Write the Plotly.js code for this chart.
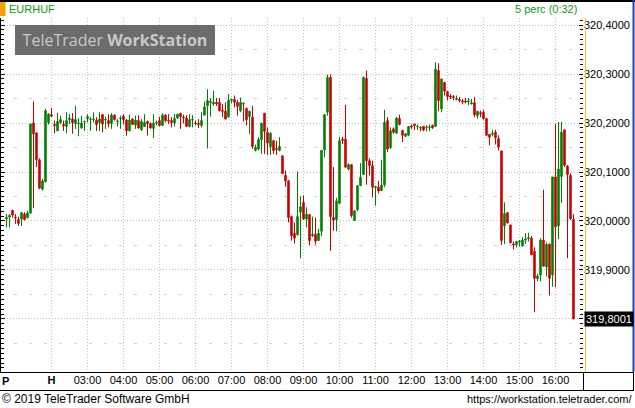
<!DOCTYPE html>
<html><head><meta charset="utf-8">
<script src="https://cdn.plot.ly/plotly-3.0.1.min.js"></script>
<style>html,body{margin:0;padding:0;background:#fff;}#chart{width:635px;height:408px;}</style>
</head><body><div id="chart"></div>
<script>
const symbol = "EURHUF";
const periodLabel = "5 perc (0:32)";
const day = "2019-01-14";
const times = [
"00:45","00:50","00:55",
"01:00","01:05","01:10","01:15","01:20","01:25","01:30","01:35","01:40","01:45","01:50","01:55",
"02:00","02:05","02:10","02:15","02:20","02:25","02:30","02:35","02:40","02:45","02:50","02:55",
"03:00","03:05","03:10","03:15","03:20","03:25","03:30","03:35","03:40","03:45","03:50","03:55",
"04:00","04:05","04:10","04:15","04:20","04:25","04:30","04:35","04:40","04:45","04:50","04:55",
"05:00","05:05","05:10","05:15","05:20","05:25","05:30","05:35","05:40","05:45","05:50","05:55",
"06:00","06:05","06:10","06:15","06:20","06:25","06:30","06:35","06:40","06:45","06:50","06:55",
"07:00","07:05","07:10","07:15","07:20","07:25","07:30","07:35","07:40","07:45","07:50","07:55",
"08:00","08:05","08:10","08:15","08:20","08:25","08:30","08:35","08:40","08:45","08:50","08:55",
"09:00","09:05","09:10","09:15","09:20","09:25","09:30","09:35","09:40","09:45","09:50","09:55",
"10:00","10:05","10:10","10:15","10:20","10:25","10:30","10:35","10:40","10:45","10:50","10:55",
"11:00","11:05","11:10","11:15","11:20","11:25","11:30","11:35","11:40","11:45","11:50","11:55",
"12:00","12:05","12:10","12:15","12:20","12:25","12:30","12:35","12:40","12:45","12:50","12:55",
"13:00","13:05","13:10","13:15","13:20","13:25","13:30","13:35","13:40","13:45","13:50","13:55",
"14:00","14:05","14:10","14:15","14:20","14:25","14:30","14:35","14:40","14:45","14:50","14:55",
"15:00","15:05","15:10","15:15","15:20","15:25","15:30","15:35","15:40","15:45","15:50","15:55",
"16:00","16:05","16:10","16:15","16:20","16:25","16:30"
];
const openP = [
320.004,320.008,320.022,320.008,320.003,320.004,320.014,320.007,320.016,320.200,
320.180,320.125,320.065,320.080,320.201,320.217,320.197,320.184,320.201,320.197,
320.193,320.207,320.208,320.199,320.199,320.190,320.202,320.209,320.207,320.207,
320.206,320.201,320.217,320.206,320.205,320.199,320.216,320.203,320.209,320.214,
320.206,320.184,320.208,320.196,320.205,320.186,320.193,320.203,320.199,320.189,
320.200,320.205,320.195,320.216,320.205,320.205,320.200,320.210,320.220,320.212,
320.210,320.193,320.206,320.200,320.199,320.195,320.216,320.235,320.242,320.239,
320.242,320.242,320.226,320.224,320.212,320.246,320.248,320.242,320.225,320.240,
320.230,320.213,320.212,320.144,320.147,320.166,320.220,320.181,320.152,320.164,
320.148,320.144,320.133,320.093,320.082,320.009,319.975,319.972,320.018,320.038,
320.004,320.013,319.970,319.973,319.960,319.979,320.145,320.222,320.293,320.007,
320.003,320.036,320.167,320.167,320.106,320.115,320.001,320.023,320.072,320.095,
320.291,320.123,320.113,320.068,320.069,320.062,320.074,320.205,320.150,320.188,
320.179,320.209,320.185,320.173,320.175,320.194,320.198,320.192,320.191,320.193,
320.191,320.191,320.195,320.193,320.307,320.229,320.283,320.264,320.255,320.254,
320.248,320.248,320.245,320.245,320.243,320.239,320.242,320.215,320.221,320.222,
320.209,320.177,320.177,320.181,320.168,320.143,319.990,320.017,319.992,319.953,
319.951,319.957,319.949,319.961,319.964,319.965,319.938,319.882,319.890,319.961,
319.906,319.953,319.890,320.090,319.990,320.091,320.186,320.112,320.093,320.003
];
const highP = [
320.014,320.014,320.022,320.014,320.009,320.017,320.018,320.021,320.198,320.244,
320.180,320.128,320.086,320.229,320.220,320.231,320.205,320.221,320.215,320.205,
320.222,320.218,320.220,320.235,320.210,320.215,320.205,320.218,320.212,320.222,
320.212,320.222,320.218,320.213,320.218,320.220,320.218,320.208,320.215,320.218,
320.208,320.217,320.210,320.215,320.216,320.208,320.218,320.205,320.201,320.218,
320.205,320.213,320.220,320.218,320.218,320.212,320.218,320.218,320.220,320.217,
320.216,320.218,320.216,320.205,320.208,320.222,320.244,320.269,320.251,320.266,
320.251,320.251,320.239,320.242,320.259,320.250,320.256,320.247,320.252,320.242,
320.230,320.225,320.235,320.156,320.171,320.201,320.220,320.191,320.181,320.165,
320.164,320.171,320.133,320.103,320.084,320.011,319.997,320.101,320.050,320.052,
320.028,320.013,320.009,320.007,319.984,320.145,320.217,320.299,320.299,320.110,
320.047,320.172,320.172,320.237,320.118,320.115,320.021,320.072,320.118,320.295,
320.307,320.128,320.123,320.072,320.082,320.125,320.227,320.212,320.191,320.191,
320.212,320.217,320.185,320.179,320.193,320.197,320.198,320.197,320.193,320.193,
320.195,320.197,320.197,320.324,320.322,320.290,320.283,320.264,320.259,320.257,
320.256,320.253,320.249,320.251,320.251,320.249,320.253,320.224,320.225,320.227,
320.209,320.177,320.186,320.186,320.175,320.143,320.038,320.017,319.992,319.958,
319.958,319.961,319.967,319.975,319.976,319.970,319.946,319.892,319.965,320.064,
319.956,319.953,320.090,320.198,320.202,320.202,320.186,320.114,320.097,320.014
];
const lowP = [
319.987,319.987,320.007,319.994,319.990,319.990,320.001,320.005,320.016,320.026,
320.110,320.065,320.062,320.079,320.197,320.212,320.179,320.184,320.198,320.184,
320.179,320.198,320.178,320.188,320.173,320.188,320.184,320.201,320.184,320.201,
320.184,320.184,320.181,320.188,320.191,320.188,320.205,320.193,320.188,320.197,
320.174,320.183,320.196,320.188,320.188,320.184,320.193,320.174,320.188,320.169,
320.195,320.193,320.195,320.201,320.198,320.191,320.193,320.208,320.188,320.199,
320.193,320.191,320.191,320.195,320.190,320.191,320.216,320.148,320.213,320.235,
320.235,320.224,320.212,320.208,320.212,320.240,320.232,320.215,320.222,320.203,
320.195,320.178,320.147,320.142,320.144,320.137,320.137,320.135,320.135,320.137,
320.135,320.142,320.096,320.070,319.997,319.960,319.954,319.970,319.924,320.002,
319.987,319.950,319.967,319.952,319.960,319.969,320.130,320.215,319.939,319.980,
319.979,320.036,320.157,320.108,320.103,320.007,320.001,320.020,320.072,320.095,
320.074,320.093,320.048,320.031,320.056,320.062,320.069,320.141,320.147,320.178,
320.179,320.195,320.161,320.171,320.173,320.188,320.186,320.186,320.183,320.183,
320.183,320.183,320.188,320.193,320.224,320.222,320.256,320.246,320.249,320.247,
320.246,320.242,320.238,320.240,320.236,320.238,320.212,320.209,320.212,320.207,
320.173,320.154,320.173,320.156,320.144,319.951,319.953,319.995,319.954,319.942,
319.946,319.948,319.948,319.953,319.958,319.931,319.814,319.877,319.877,319.907,
319.887,319.848,319.866,319.865,319.963,320.037,320.110,319.924,320.002,319.800
];
const closeP = [
320.007,320.011,320.012,320.007,319.995,320.017,320.003,320.016,320.198,320.178,
320.125,320.067,320.082,320.225,320.218,320.214,320.195,320.203,320.207,320.194,
320.205,320.210,320.201,320.207,320.200,320.200,320.203,320.213,320.208,320.208,
320.197,320.208,320.198,320.207,320.199,320.216,320.207,320.204,320.210,320.207,
320.184,320.206,320.197,320.206,320.190,320.203,320.201,320.199,320.190,320.200,
320.201,320.195,320.216,320.205,320.204,320.201,320.209,320.218,320.213,320.211,
320.193,320.207,320.207,320.199,320.197,320.205,320.233,320.246,320.244,320.242,
320.239,320.225,320.224,320.208,320.246,320.248,320.242,320.234,320.242,320.239,
320.207,320.224,320.152,320.150,320.166,320.199,320.183,320.159,320.179,320.144,
320.146,320.152,320.097,320.082,320.007,319.970,319.965,320.009,320.029,320.004,
320.014,319.960,319.973,319.959,319.975,320.144,320.217,320.293,320.009,320.002,
320.041,320.164,320.165,320.110,320.115,320.011,320.021,320.072,320.089,320.293,
320.123,320.113,320.069,320.070,320.061,320.073,320.201,320.147,320.184,320.181,
320.210,320.197,320.175,320.178,320.193,320.192,320.195,320.193,320.190,320.186,
320.192,320.192,320.190,320.310,320.246,320.290,320.265,320.254,320.253,320.252,
320.250,320.246,320.243,320.243,320.245,320.241,320.217,320.224,320.219,320.209,
320.175,320.171,320.179,320.170,320.151,319.960,320.015,319.996,319.956,319.951,
319.958,319.959,319.961,319.963,319.966,319.931,319.883,319.888,319.961,319.908,
319.952,319.883,320.090,319.988,320.106,320.181,320.114,320.095,320.005,319.8001
];
const hourTicks = ["02:00","03:00","04:00","05:00","06:00","07:00","08:00","09:00","10:00","11:00","12:00","13:00","14:00","15:00","16:00"];
const hourLabels = ["<b>H</b>","03:00","04:00","05:00","06:00","07:00","08:00","09:00","10:00","11:00","12:00","13:00","14:00","15:00","16:00"];
const priceTicks = [319.8,319.9,320.0,320.1,320.2,320.3,320.4];
const halfTicks = [319.75,319.85,319.95,320.05,320.15,320.25,320.35];

const GREEN = "#008000", RED = "#c80000";
const FONT = "Liberation Sans, Arial, sans-serif";
// plot area in pixels: x 1..583, y 18..372
const L = 1, R = 583, T = 18, B = 372;
const px = v => (v - L) / (R - L);
const py = v => (B - v) / (B - T);
const yRange = [319.6918, 320.4143];

const xs = times.map(t => day + " " + t);
const lastClose = closeP[closeP.length - 1];
const fmt = v => v.toFixed(4).replace(".", ",");
// the tick label hidden behind the last-price box is left blank
const priceLabels = priceTicks.map(v => Math.abs(v - lastClose) < 0.02 ? "" : fmt(v));
let dashStr = "0px,13px";
for (let k = 0; k < 45; k++) dashStr += ",3px,12px";

const trace = {
  type: "candlestick", x: xs, open: openP, high: highP, low: lowP, close: closeP,
  increasing: {line: {color: GREEN, width: 1}, fillcolor: GREEN},
  decreasing: {line: {color: RED, width: 1}, fillcolor: RED},
  whiskerwidth: 0, hoverinfo: "skip", showlegend: false
};

const lineShape = (x0, y0, x1, y1, color, w) => ({type: "line", xref: "paper", yref: "paper",
  x0: px(x0), y0: py(y0), x1: px(x1), y1: py(y1), line: {color: color, width: w}, layer: "above"});

const layout = {
  width: 635, height: 408,
  margin: {l: L, r: 635 - R, t: T, b: 408 - B, pad: 0},
  paper_bgcolor: "#ffffff", plot_bgcolor: "#ffffff",
  separators: ", ",
  font: {family: FONT, size: 11, color: "#000"},
  showlegend: false,
  boxgap: 0.3,
  xaxis: {
    type: "date", range: [day + " 00:35:50", day + " 16:45:50"],
    rangeslider: {visible: false},
    tickmode: "array", tickvals: hourTicks.map(t => day + " " + t), ticktext: hourLabels,
    ticks: "", showgrid: true, gridcolor: "#c4c4c4", griddash: "1px,2px", gridwidth: 1,
    zeroline: false, showline: false, tickfont: {size: 11, color: "#000", family: FONT},
    fixedrange: true
  },
  yaxis: {
    side: "right", range: yRange, autorange: false,
    tickmode: "array", tickvals: priceTicks, ticktext: priceLabels,
    ticks: "inside", ticklen: 4, tickcolor: "#000", tickwidth: 1, mirror: "ticks",
    minor: {tickmode: "linear", tick0: 320, dtick: 0.01, ticks: "inside", ticklen: 3, tickcolor: "#000", showgrid: false},
    showgrid: true, gridcolor: "#c4c4c4", griddash: "1px,2px",
    zeroline: false, showline: false, tickfont: {size: 11, color: "#000", family: FONT},
    fixedrange: true
  },
  yaxis2: {
    overlaying: "y", side: "right", range: yRange, autorange: false,
    tickmode: "array", tickvals: halfTicks, showticklabels: false, ticks: "",
    showgrid: true, gridcolor: "#d2d2d2", griddash: dashStr, zeroline: false, showline: false
  },
  shapes: [
    {type: "rect", xref: "paper", yref: "paper", x0: px(0), x1: px(5.5), y0: py(16), y1: py(0),
     fillcolor: "#f5a000", line: {width: 0}, layer: "above"},
    lineShape(0, 1, 635, 1, "#000", 2),
    lineShape(633.5, 0, 633.5, 372, "#1f3fc8", 2),
    lineShape(585.5, 18, 585.5, 372, "#f0c040", 1),
    lineShape(0.5, 18, 0.5, 372, "#000", 1),
    lineShape(0, 372.5, 634, 372.5, "#000", 1),
    lineShape(0, 390.5, 634, 390.5, "#000", 1),
    lineShape(583.5, 372, 583.5, 390, "#000", 1),
    lineShape(633.5, 372, 633.5, 390.5, "#000", 1)
  ],
  annotations: [
    {xref: "paper", yref: "paper", x: px(7), y: py(9), xanchor: "left", yanchor: "middle",
     text: symbol, showarrow: false, font: {size: 11, color: "#119911", family: FONT}},
    {xref: "paper", yref: "paper", x: px(579), y: py(9), xanchor: "right", yanchor: "middle",
     text: periodLabel, showarrow: false, font: {size: 11, color: "#119911", family: FONT}},
    {xref: "paper", yref: "paper", x: px(15), y: py(25), xanchor: "left", yanchor: "top",
     text: "TeleTrader <b>WorkStation</b>", showarrow: false, width: 200, height: 30,
     bgcolor: "#6b6b6b", borderpad: 0, borderwidth: 0, align: "center", valign: "middle",
     font: {size: 16, color: "#c8c8c8", family: "Open Sans, sans-serif"}},
    {xref: "paper", yref: "y", x: px(584), y: lastClose, xanchor: "left", yanchor: "middle",
     text: fmt(lastClose), showarrow: false, bgcolor: "#000",
     borderpad: 1, font: {size: 11, color: "#fff", family: FONT}},
    {xref: "paper", yref: "paper", x: px(5), y: py(381), xanchor: "center", yanchor: "middle",
     text: "<b>P</b>", showarrow: false, font: {size: 11, color: "#000", family: FONT}},
    {xref: "paper", yref: "paper", x: px(0), y: py(399), xanchor: "left", yanchor: "middle",
     text: "© 2019 TeleTrader Software GmbH", showarrow: false, font: {size: 12, color: "#000", family: FONT}},
    {xref: "paper", yref: "paper", x: px(634), y: py(399), xanchor: "right", yanchor: "middle",
     text: "https://workstation.teletrader.com/", showarrow: false, font: {size: 11, color: "#000", family: FONT}}
  ]
};
const dummy = {type: "scatter", x: [xs[0]], y: [320], yaxis: "y2", mode: "markers",
  marker: {opacity: 0}, hoverinfo: "skip", showlegend: false};
Plotly.newPlot("chart", [dummy, trace], layout, {staticPlot: true, displayModeBar: false});
</script></body></html>
